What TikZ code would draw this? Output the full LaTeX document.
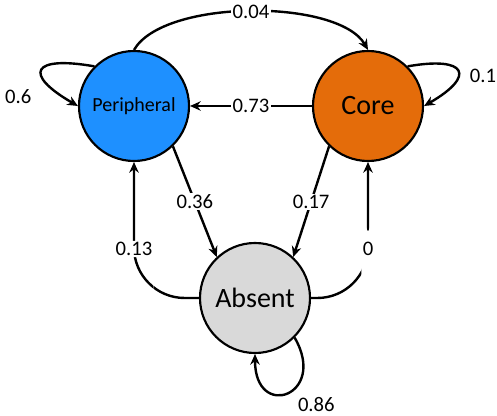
\documentclass[tikz,border=0pt]{standalone}
\usepackage{fontspec}
\setmainfont{Carlito}
\usepackage{tikz}
\usetikzlibrary{arrows.meta}
\definecolor{periblue}{RGB}{30,144,255}
\definecolor{coreorange}{RGB}{228,108,10}
\definecolor{absentgray}{RGB}{217,217,217}
\tikzset{
  state/.style   = {circle,draw=black,line width=1.6pt,minimum size=82.5pt,inner sep=0pt},
  trans/.style   = {-{Stealth[length=2.8mm,width=2.5mm]},line width=1.8pt},
  problbl/.style = {fill=white,inner sep=1pt,font=\fontsize{15.5}{18}\selectfont}
}

\begin{document}
\begin{tikzpicture}[x=0.75pt,y=-0.75pt]
  \useasboundingbox (0,0) rectangle (497,416);
  \node[state,fill=periblue,font=\fontsize{15}{18}\selectfont]   (peri)   at (134,106) {Peripheral};
  \node[state,fill=coreorange,font=\fontsize{21}{25}\selectfont] (core)   at (368,106) {Core};
  \node[state,fill=absentgray,font=\fontsize{21}{25}\selectfont] (absent) at (255,298) {Absent};
  \draw[trans] (peri.north) to[out=60,in=120,looseness=0.65] node[problbl]{0.04} (core.north);
  \draw[trans] (core.west) -- node[problbl]{0.73} (peri.east);
  \draw[trans] (peri.-46) -- node[problbl]{0.36} (absent.133);
  \draw[trans] (core.-134) -- node[problbl]{0.17} (absent.47);
  \draw[trans,rounded corners=38pt] (absent.west) -| node[problbl,pos=0.68]{0.13} (peri.south);
  \draw[trans,rounded corners=38pt] (absent.east) -| node[problbl,pos=0.68]{0} (core.south);
  % self loops
  \draw[trans] (peri.135) to[out=170,in=150,looseness=3.8] node[problbl,pos=0.65,below left=7pt]{0.6} (peri.180);
  \draw[trans] (core.45) to[out=10,in=30,looseness=3.6] node[problbl,pos=0.6,right=7pt]{0.1} (core.0);
  \draw[trans] (absent.-45) to[out=-60,in=-90,looseness=4] node[problbl,pos=0.45,below right=3pt]{0.86} (absent.south);
\end{tikzpicture}
\end{document}
